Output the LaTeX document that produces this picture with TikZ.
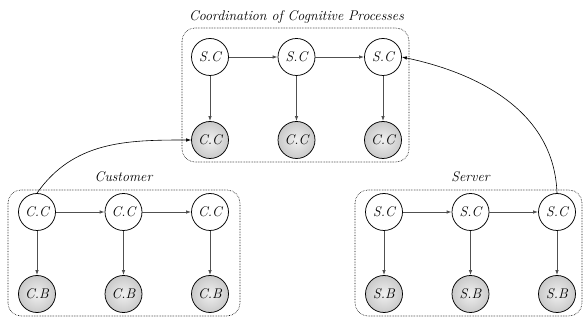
\documentclass[tikz,border=0pt]{standalone}
\usepackage{fontspec}
\usepackage{tikz}
\usetikzlibrary{arrows.meta}
\definecolor{edgegray}{RGB}{80,80,80}

\begin{document}
\begin{tikzpicture}[x=1pt,y=1pt,>={Latex[length=5pt,width=3.5pt]},
  var/.style={circle,draw,line width=0.75pt,minimum size=37pt,inner sep=0pt,
              font=\fontsize{14}{16}\selectfont\itshape},
  obs/.style={var,shading=radial,inner color=gray!12,outer color=gray!42},
  flow/.style={->,edgegray,line width=0.9pt},
  link/.style={->,line width=0.6pt},
  group/.style={densely dotted,rounded corners=13pt,line width=0.6pt},
  title/.style={font=\fontsize{14}{16}\selectfont\itshape}]
  \useasboundingbox (0,0) rectangle (584,324);
  % coordination of cognitive processes
  \draw[group] (182,162) rectangle (409,296);
  \node[title] (ttop) at (296.5,307) {Coordination of Cognitive Processes};
  \foreach \i/\x in {1/210,2/296.5,3/383}{
    \node[var] (ts\i) at (\x,267) {S.C};
    \node[obs] (tc\i) at (\x,184) {C.C};
    \draw[flow] (ts\i) -- (tc\i);
  }
  \draw[flow] (ts1) -- (ts2);
  \draw[flow] (ts2) -- (ts3);
  % customer
  \draw[group] (8,8) rectangle (240,134);
  \node[title] (tcus) at (123.5,147) {Customer};
  \foreach \i/\x in {1/37,2/123.5,3/210}{
    \node[var] (cc\i) at (\x,112) {C.C};
    \node[obs] (cb\i) at (\x,30) {C.B};
    \draw[flow] (cc\i) -- (cb\i);
  }
  \draw[flow] (cc1) -- (cc2);
  \draw[flow] (cc2) -- (cc3);
  % server
  \draw[group] (355,8) rectangle (582,134);
  \node[title] (tser) at (470.5,147) {Server};
  \foreach \i/\x in {1/384,2/470.5,3/557}{
    \node[var] (sc\i) at (\x,112) {S.C};
    \node[obs] (sb\i) at (\x,30) {S.B};
    \draw[flow] (sc\i) -- (sb\i);
  }
  \draw[flow] (sc1) -- (sc2);
  \draw[flow] (sc2) -- (sc3);
  % couplings
  \draw[link] (cc1.north) to[out=55,in=180] (tc1.west);
  \draw[link] (sc3.north) to[out=92,in=-12] (ts3.east);
\end{tikzpicture}
\end{document}
